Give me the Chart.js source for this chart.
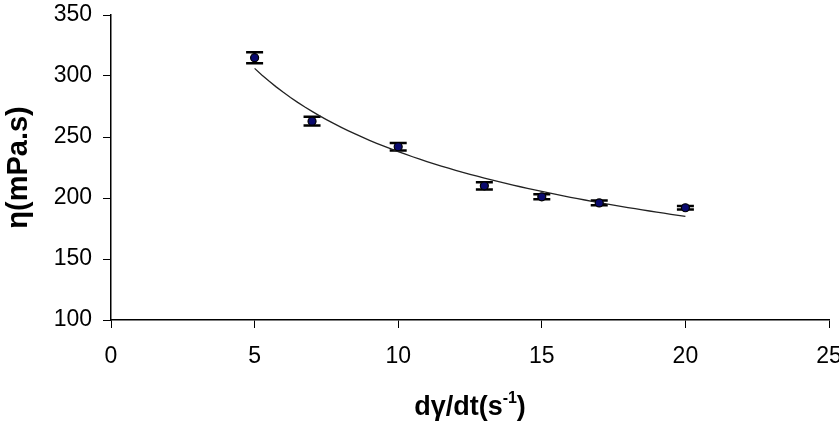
<!DOCTYPE html>
<html>
<head>
<meta charset="utf-8">
<script src="https://cdn.jsdelivr.net/npm/chart.js@4/dist/chart.umd.min.js"></script>
<style>
  html, body { margin: 0; padding: 0; background: #fff; overflow: hidden; }
  #wrap { width: 839px; height: 441px; overflow: hidden; }
</style>
</head>
<body>
<div id="wrap"><canvas id="chart" width="860" height="441"></canvas></div>
<script>
// measured points: shear rate (1/s) vs viscosity (mPa.s)
const shearRates = [5, 7, 10, 13, 15, 17, 20];
const viscosity = [315, 263, 242, 210, 201, 196, 192];
const viscosityErr = [4.5, 3.5, 3, 3, 2, 2, 1.5];

const xMin = 0, xMax = 25, xStep = 5;
const yMin = 100, yMax = 350, yStep = 50;

// power trendline (least squares on log-log), like the spreadsheet one
function powerFit(xs, ys) {
    const lx = xs.map(Math.log), ly = ys.map(Math.log);
    const n = xs.length;
    const mx = lx.reduce((a, b) => a + b, 0) / n;
    const my = ly.reduce((a, b) => a + b, 0) / n;
    let sxy = 0, sxx = 0;
    for (let i = 0; i < n; i++) {
        sxy += (lx[i] - mx) * (ly[i] - my);
        sxx += (lx[i] - mx) * (lx[i] - mx);
    }
    const b = sxy / sxx;
    const a = Math.exp(my - b * mx);
    return x => a * Math.pow(x, b);
}
const fit = powerFit(shearRates, viscosity);
const fitPoints = [];
for (let x = shearRates[0]; x <= shearRates[shearRates.length - 1] + 1e-9; x += 0.25) {
    fitPoints.push({x: x, y: fit(x)});
}

const errorBars = {
    id: 'errorBars',
    beforeDatasetsDraw(chart) {
        const ctx = chart.ctx;
        const xs = chart.scales.x, ys = chart.scales.y;
        ctx.save();
        ctx.strokeStyle = '#000';
        shearRates.forEach((sr, i) => {
            const px = xs.getPixelForValue(sr);
            const top = ys.getPixelForValue(viscosity[i] + viscosityErr[i]);
            const bot = ys.getPixelForValue(viscosity[i] - viscosityErr[i]);
            ctx.lineWidth = 1.5;
            ctx.beginPath();
            ctx.moveTo(px, top); ctx.lineTo(px, bot);
            ctx.stroke();
            ctx.lineWidth = 2.5;
            ctx.beginPath();
            ctx.moveTo(px - 8.5, top); ctx.lineTo(px + 8.5, top);
            ctx.moveTo(px - 8.5, bot); ctx.lineTo(px + 8.5, bot);
            ctx.stroke();
        });
        ctx.restore();
    }
};

// x title with a real superscript
const xTitle = {
    id: 'xTitle',
    afterDraw(chart) {
        const ctx = chart.ctx;
        const area = chart.chartArea;
        const main = 'dγ/dt(s', sup = '-1', end = ')';
        const big = 'bold 27px "Liberation Sans", Arial, sans-serif';
        const small = 'bold 16px "Liberation Sans", Arial, sans-serif';
        ctx.save();
        ctx.fillStyle = '#000';
        ctx.textBaseline = 'alphabetic';
        ctx.font = big;
        const w1 = ctx.measureText(main).width;
        const w3 = ctx.measureText(end).width;
        ctx.font = small;
        const w2 = ctx.measureText(sup).width;
        let x = (area.left + area.right) / 2 - (w1 + w2 + w3) / 2;
        const y = area.bottom + 95;
        ctx.font = big;
        ctx.fillText(main, x, y);
        x += w1;
        ctx.font = small;
        ctx.fillText(sup, x, y - 12);
        x += w2;
        ctx.font = big;
        ctx.fillText(end, x, y);
        ctx.restore();
    }
};

const chart = new Chart(document.getElementById('chart'), {
    type: 'scatter',
    data: {
        datasets: [
            {
                label: 'measured',
                data: shearRates.map((x, i) => ({x: x, y: viscosity[i]})),
                pointRadius: 4,
                pointBackgroundColor: '#0a0a6e',
                pointBorderColor: '#000',
                pointBorderWidth: 1.2,
                order: 1
            },
            {
                label: 'power fit',
                type: 'line',
                data: fitPoints,
                borderColor: '#222',
                borderWidth: 1.3,
                pointRadius: 0,
                fill: false,
                tension: 0,
                order: 2
            }
        ]
    },
    options: {
        responsive: false,
        animation: false,
        layout: { padding: { top: 15, right: 31, bottom: 0, left: 0 } },
        plugins: {
            legend: { display: false },
            tooltip: { enabled: false }
        },
        scales: {
            x: {
                type: 'linear',
                min: xMin, max: xMax,
                ticks: {
                    stepSize: xStep,
                    color: '#000',
                    padding: 15,
                    maxRotation: 0,
                    font: { family: '"Liberation Sans", Arial, sans-serif', size: 23 }
                },
                grid: { drawOnChartArea: false, drawTicks: true, tickLength: 8, color: '#000' },
                border: { color: '#000', width: 1.5 },
                afterFit(scale) { scale.height = 121; scale.paddingLeft = 0; scale.paddingRight = 0; }
            },
            y: {
                min: yMin, max: yMax,
                ticks: {
                    stepSize: yStep,
                    color: '#000',
                    padding: 11,
                    font: { family: '"Liberation Sans", Arial, sans-serif', size: 23 }
                },
                grid: { drawOnChartArea: false, drawTicks: true, tickLength: 8, color: '#000' },
                border: { color: '#000', width: 1.5 },
                title: {
                    display: true,
                    text: 'η(mPa.s)',
                    color: '#000',
                    padding: { top: 2, bottom: 0 },
                    font: { family: '"Liberation Sans", Arial, sans-serif', size: 29, weight: 'bold' }
                },
                afterFit(scale) { scale.width = 111; scale.paddingTop = 0; scale.paddingBottom = 0; }
            }
        }
    },
    plugins: [errorBars, xTitle]
});
</script>
</body>
</html>
